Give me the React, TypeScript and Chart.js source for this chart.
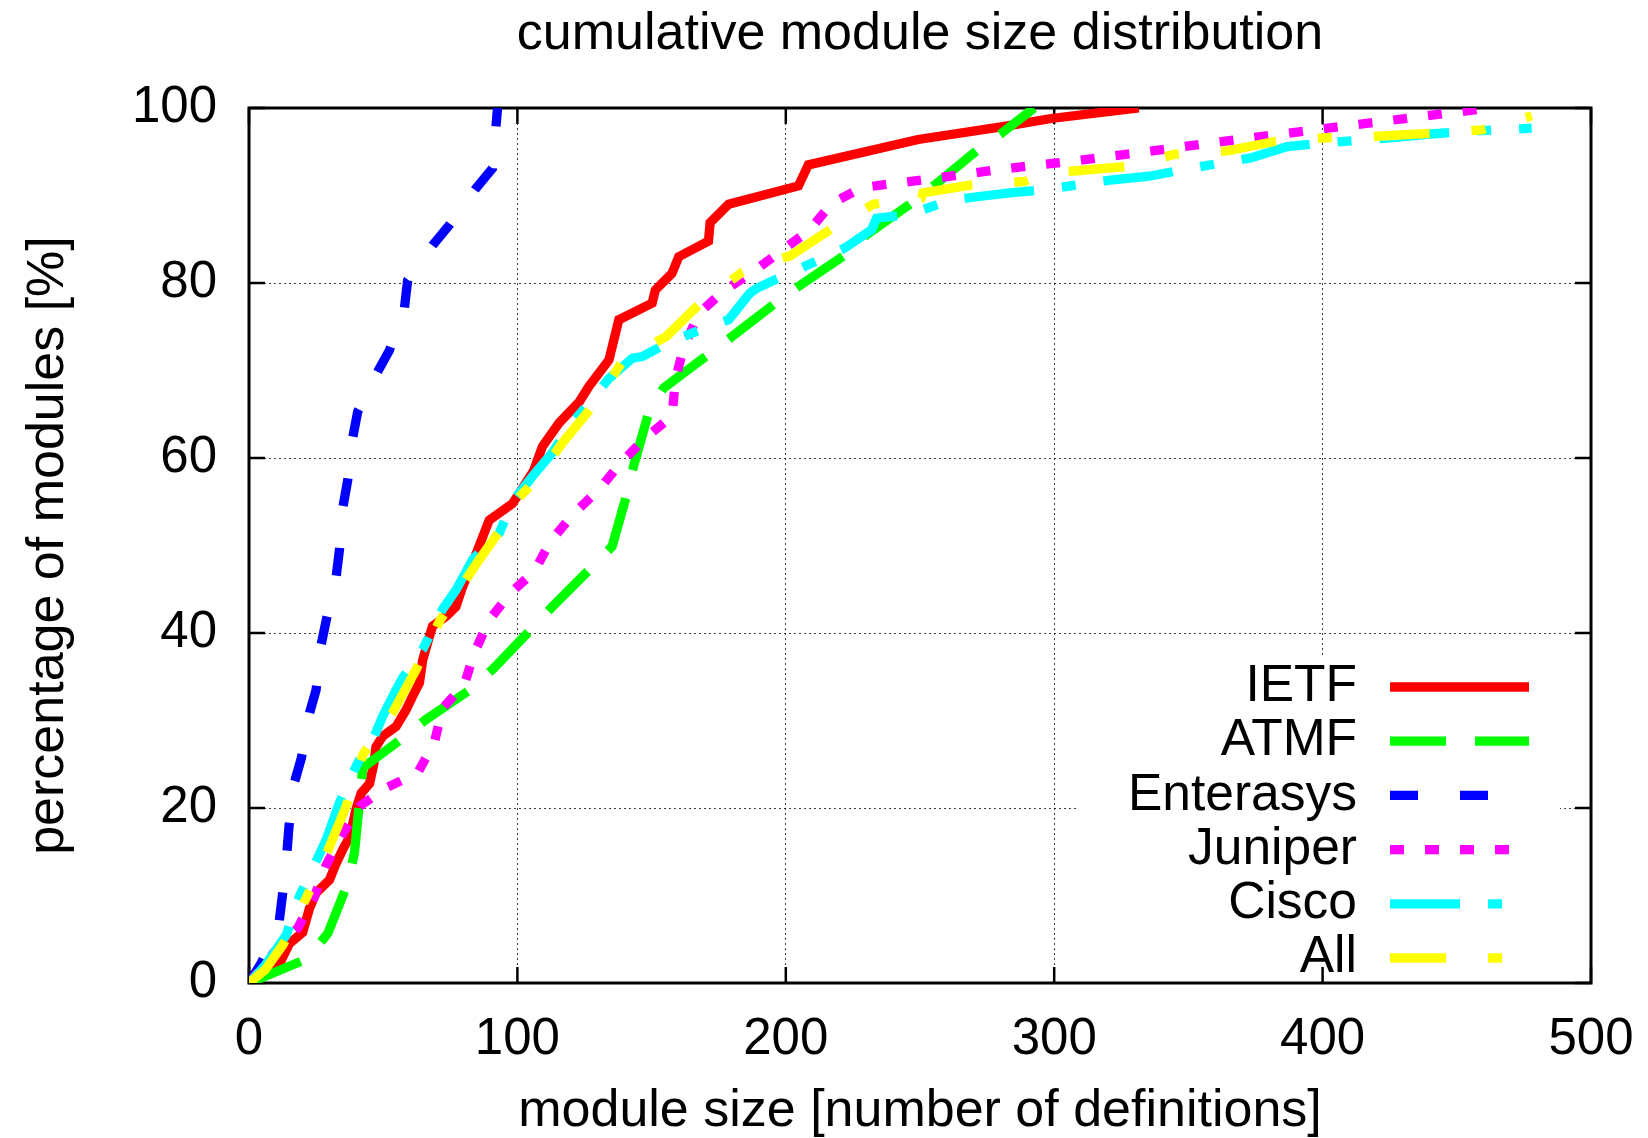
import React, { useEffect, useRef } from 'react';
import { Chart, registerables } from 'chart.js';

Chart.register(...registerables);

const FONT = "'Liberation Sans', Arial, Helvetica, sans-serif";

const titleText = 'cumulative module size distribution';
const xTitle = 'module size [number of definitions]';
const yTitle = 'percentage of modules [%]';

const xTicks = [0, 100, 200, 300, 400, 500];
const yTicks = [0, 20, 40, 60, 80, 100];

const seriesNames = ['IETF', 'ATMF', 'Enterasys', 'Juniper', 'Cisco', 'All'];
const seriesColors = ['#ff0000', '#00ff00', '#0000ff', '#ff00ff', '#00ffff', '#ffff00'];
const seriesDash = [[], [56, 29], [28, 42], [14, 21], [70, 28, 14, 28], [56, 42, 14, 42]];

const ietfX = [0, 6, 11.4, 15, 20, 22.5, 25, 30, 32.5, 35, 37.5, 40, 41.8, 44.9, 46.5, 47.3, 49.8, 54.8, 58.5, 61, 63.5, 64.7, 67.2, 68.4, 73.4, 77.1, 79.6, 83.3, 89.5, 98.2, 106, 109.3, 115.5, 123, 126.7, 134.1, 137.8, 150.2, 151.4, 157.6, 160.1, 171.2, 171.8, 178.7, 204.7, 208.4, 249.3, 281.5, 298.9, 331.5];
const ietfY = [0, 1, 2.2, 4.5, 5.8, 8.5, 10.3, 11.8, 13.7, 15.3, 16.7, 20, 21.7, 22.8, 25, 27, 28.2, 29.3, 31.2, 32.8, 34.3, 36.9, 39.6, 40.8, 41.9, 43, 45.3, 48, 52.9, 54.8, 58.5, 61.3, 64, 66.4, 68.2, 71.2, 75.8, 77.7, 79.2, 81.1, 83, 84.8, 86.9, 89, 91.1, 93.5, 96.4, 97.9, 98.8, 100];

const atmfX = [0, 21.9, 29.4, 36.8, 39.3, 41.1, 42.4, 57.3, 65.9, 83.3, 91.3, 105, 113, 127.3, 135.3, 140.9, 143.4, 149, 154.5, 170.6, 179.6, 195.7, 204.7, 221.5, 230, 246.2, 255.5, 271, 280.3, 292.5];
const atmfY = [0, 2.8, 5.7, 11.4, 14.9, 20.6, 24.6, 28, 30.1, 33.7, 36, 40.4, 43, 47.4, 49.9, 56, 59.2, 65.3, 68, 71.7, 73.8, 77.6, 79.6, 83.1, 85.5, 89, 91.2, 95.1, 97.1, 100];

const enterasysX = [0, 4.6, 11.2, 12.4, 14.1, 14.9, 17, 19.5, 22.6, 25, 26.9, 28.8, 32.5, 33.7, 35, 36.8, 38.7, 40.5, 48, 52.3, 57.9, 59.1, 68.4, 74.6, 84.5, 90.7, 92.6];
const enterasysY = [0, 2.3, 6.9, 9.9, 14.8, 17.9, 23, 25.7, 30.9, 33.5, 38.7, 41.5, 46.5, 49.5, 54.4, 57.5, 62.4, 65.3, 69.9, 72.3, 77.1, 80.3, 84.3, 86.6, 90.8, 93.1, 100];

const juniperX = [0, 4, 9, 18.2, 24.4, 28.8, 35, 41.2, 51.1, 62.8, 69, 72.1, 80.2, 83.9, 89.5, 97.5, 106.2, 112.4, 121.1, 130.4, 138.4, 147.7, 157.6, 158.9, 162, 167.6, 176.8, 187.4, 198.5, 209, 217.1, 228.2, 254, 280, 306, 332, 358, 384, 410, 436, 462];
const juniperY = [0, 1.5, 3.4, 6.3, 9.9, 13.5, 17.1, 20.2, 22.3, 24, 27.4, 31.4, 34.1, 37.7, 41.5, 44.6, 47, 50.5, 53.7, 56.4, 59.4, 62.3, 64.8, 69, 72.7, 76.5, 79.1, 81.2, 83.7, 86.1, 89.1, 90.9, 91.9, 93, 93.9, 94.9, 96, 97, 98, 99, 100];

const ciscoX = [0, 6, 13.9, 18.8, 25, 28.8, 33.7, 38.7, 42.4, 46.7, 49.8, 54.8, 57.3, 64.7, 72.1, 77.1, 83.3, 93.2, 98.2, 105.6, 113, 119.8, 127.9, 134.1, 142.8, 146.5, 157, 167, 178.7, 186.5, 189.2, 199.8, 222, 232, 233.8, 245.6, 261.7, 269.7, 283.4, 297, 321.8, 335.4, 349, 373.2, 386.8, 400.5, 425.2, 438.9, 452.5, 477.9];
const ciscoY = [0, 2, 5.5, 9.9, 13.9, 16.4, 20.6, 24, 26.3, 28.2, 30.5, 33.5, 34.9, 38.1, 42.7, 44.9, 48.4, 51.4, 55, 57.9, 60.6, 63.8, 66.7, 69.1, 71.4, 71.6, 73.3, 74.5, 75.8, 78.8, 79.4, 80.9, 84, 86.1, 87.4, 87.8, 89.5, 89.8, 90.3, 90.7, 91.8, 92.2, 93, 94.3, 95.6, 96, 96.6, 97, 97.3, 97.7];

const allX = [0, 6, 12.7, 21.3, 28.8, 36.2, 42.4, 53.5, 62.2, 70.9, 80.8, 85.8, 93, 100.6, 106.8, 116.7, 128.5, 139.1, 145.2, 151.4, 155.5, 168.5, 183.6, 189.8, 201.6, 216.5, 232.6, 250.5, 251.1, 269.1, 289, 297.6, 307.5, 326.4, 344.7, 364.5, 382.5, 401.7, 422.1, 440.1, 459.3, 468.6, 477.9];
const allY = [0, 1.5, 4.4, 9.7, 14.7, 20.2, 26.1, 30.9, 35.8, 41.3, 46.1, 48.4, 51.5, 55.5, 57.5, 61.7, 66.1, 71, 71.7, 73.2, 73.9, 77.8, 81.2, 82.1, 83.1, 86.1, 89, 89.7, 90.3, 91.2, 91.6, 92.6, 92.8, 93.3, 94.7, 95.1, 96.2, 96.6, 96.8, 97.1, 97.5, 98.3, 99.1];

const seriesX = [ietfX, atmfX, enterasysX, juniperX, ciscoX, allX];
const seriesY = [ietfY, atmfY, enterasysY, juniperY, ciscoY, allY];

const W = 1648;
const H = 1138;
const LINE_W = 9.3;

const framePlugin = {
  id: 'gnuFrame',
  beforeDatasetsDraw(chart: any) {
    const { ctx, chartArea: a, scales } = chart;
    ctx.save();
    // legend background box
    ctx.fillStyle = '#ffffff';
    ctx.fillRect(1079, 658, 1560 - 1079, a.bottom - 658);
    // border
    ctx.strokeStyle = '#000';
    ctx.lineWidth = 3;
    ctx.setLineDash([]);
    ctx.strokeRect(a.left, a.top, a.right - a.left, a.bottom - a.top);
    // inward ticks
    const TL = 16;
    ctx.lineWidth = 2.5;
    ctx.beginPath();
    for (const v of xTicks) {
      const px = scales.x.getPixelForValue(v);
      ctx.moveTo(px, a.bottom);
      ctx.lineTo(px, a.bottom - TL);
      ctx.moveTo(px, a.top);
      ctx.lineTo(px, a.top + TL);
    }
    for (const v of yTicks) {
      const py = scales.y.getPixelForValue(v);
      ctx.moveTo(a.left, py);
      ctx.lineTo(a.left + TL, py);
      ctx.moveTo(a.right, py);
      ctx.lineTo(a.right - TL, py);
    }
    ctx.stroke();
    ctx.restore();
  },
  afterDraw(chart: any) {
    const { ctx, chartArea: a } = chart;
    ctx.save();
    // title
    ctx.font = `52px ${FONT}`;
    ctx.fillStyle = '#000';
    ctx.textAlign = 'center';
    ctx.textBaseline = 'middle';
    ctx.fillText(titleText, (a.left + a.right) / 2, 35);
    // legend
    ctx.font = `51.5px ${FONT}`;
    ctx.textAlign = 'right';
    const rowTop = 687;
    const rowStep = 54.2;
    seriesNames.forEach((name, i) => {
      const y = rowTop + i * rowStep;
      ctx.fillStyle = '#000';
      ctx.fillText(name, 1357, y);
      ctx.beginPath();
      ctx.strokeStyle = seriesColors[i];
      ctx.lineWidth = LINE_W;
      ctx.lineCap = 'butt';
      ctx.lineDashOffset = 0;
      ctx.setLineDash(seriesDash[i].slice());
      ctx.moveTo(1390, y);
      ctx.lineTo(1529, y);
      ctx.stroke();
    });
    ctx.restore();
  },
};

export default function App() {
  const ref = useRef<HTMLCanvasElement | null>(null);

  useEffect(() => {
    const canvas = ref.current;
    if (!canvas) return;
    const datasets = seriesNames.map((name, i) => ({
      label: name,
      data: seriesX[i].map((x, j) => ({ x, y: seriesY[i][j] })),
      borderColor: seriesColors[i],
      backgroundColor: seriesColors[i],
      borderWidth: LINE_W,
      borderDash: seriesDash[i].slice(),
      borderCapStyle: 'butt' as const,
      borderJoinStyle: 'miter' as const,
      pointRadius: 0,
      tension: 0,
      fill: false,
      order: seriesNames.length - i,
    }));
    const tickFont = { family: FONT, size: 51 };
    const chart = new Chart(canvas, {
      type: 'line',
      data: { datasets },
      options: {
        responsive: false,
        animation: false,
        devicePixelRatio: 1,
        layout: { padding: { top: 108, right: 57, left: 0, bottom: 0 } },
        plugins: {
          legend: { display: false },
          title: { display: false },
          tooltip: { enabled: false },
        },
        scales: {
          x: {
            type: 'linear',
            min: 0,
            max: 500,
            afterBuildTicks: (s: any) => {
              s.ticks = xTicks.map((v) => ({ value: v }));
            },
            afterFit: (s: any) => {
              s.height = H - 983;
              s.paddingLeft = 0;
              s.paddingRight = 0;
            },
            ticks: { font: tickFont, color: '#000', padding: 26, maxRotation: 0, autoSkip: false },
            grid: { color: 'rgba(0,0,0,0.75)', lineWidth: 1, drawTicks: false },
            border: { display: false, dash: [2, 3] },
            title: {
              display: true,
              text: xTitle,
              color: '#000',
              font: { family: FONT, size: 52, lineHeight: 1.0 },
              padding: { top: 0, bottom: 0 },
            },
          },
          y: {
            type: 'linear',
            min: 0,
            max: 100,
            afterBuildTicks: (s: any) => {
              s.ticks = yTicks.map((v) => ({ value: v }));
            },
            afterFit: (s: any) => {
              s.width = 249;
              s.paddingTop = 0;
              s.paddingBottom = 0;
            },
            ticks: { font: tickFont, color: '#000', padding: 32, autoSkip: false },
            grid: { color: 'rgba(0,0,0,0.75)', lineWidth: 1, drawTicks: false },
            border: { display: false, dash: [2, 3] },
            title: {
              display: true,
              text: yTitle,
              color: '#000',
              font: { family: FONT, size: 52, lineHeight: 1.2 },
              padding: { top: 17, bottom: 0 },
            },
          },
        },
      },
      plugins: [framePlugin],
    } as any);
    return () => chart.destroy();
  }, []);

  return (
    <div style={{ position: 'fixed', left: 0, top: 0, width: W, height: H, background: '#fff' }}>
      <canvas ref={ref} width={W} height={H} style={{ display: 'block', width: W, height: H }} />
    </div>
  );
}
